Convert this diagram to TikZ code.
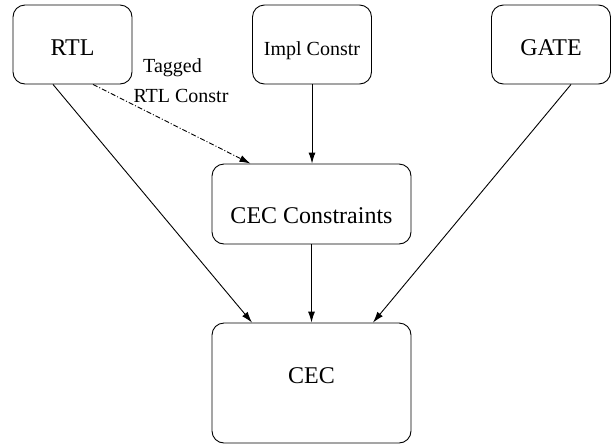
\documentclass[tikz,border=0pt]{standalone}
\usepackage{fontspec}
\setmainfont{Liberation Serif}
\usetikzlibrary{arrows.meta}
\tikzset{
  blk/.style={draw, line width=.9pt, rounded corners=12pt, minimum width=119pt, minimum height=79pt, inner sep=0pt},
  top/.style={text height=21pt, text depth=0pt},
  big/.style={font=\fontsize{24}{28}\selectfont},
  small/.style={font=\fontsize{20}{30}\selectfont},
  conn/.style={line width=.9pt, -{Latex[length=11pt,width=7pt]}},
}

\begin{document}
\begin{tikzpicture}[x=1pt,y=-1pt]
\useasboundingbox (0,0) rectangle (615,445);
% sources
\node[blk,top,big] (rtl) at (72.5,44.5) {RTL};
\node[blk,top,small] (impl) at (312,44.5) {Impl Constr};
\node[blk,top,big] (gate) at (551,44.5) {GATE};
% middle and bottom
\node[blk, minimum width=199pt, minimum height=80pt] (cons) at (311.5,204) {};
\node[blk, minimum width=199pt, minimum height=120pt] (cec) at (311.5,383) {};
\node[big] (consl) at (311.5,216) {CEC Constraints};
\node[big] (cecl) at (311.5,376) {CEC};
\node[small] (tag1) at (172.5,68) {Tagged};
\node[small] (tag2) at (181,96) {RTL Constr};
% connectors
\draw[conn] ([xshift=-19.5pt]rtl.south) -- ([xshift=-59.5pt]cec.north);
\draw[conn, dash pattern=on 5pt off 2pt on 1pt off 2pt] ([xshift=20.5pt]rtl.south) -- ([xshift=-61pt]cons.north);
\draw[conn] (impl.south) -- (impl.south |- cons.north);
\draw[conn] (cons.south) -- (cec.north);
\draw[conn] ([xshift=20pt]gate.south) -- ([xshift=61.5pt]cec.north);
\end{tikzpicture}
\end{document}
